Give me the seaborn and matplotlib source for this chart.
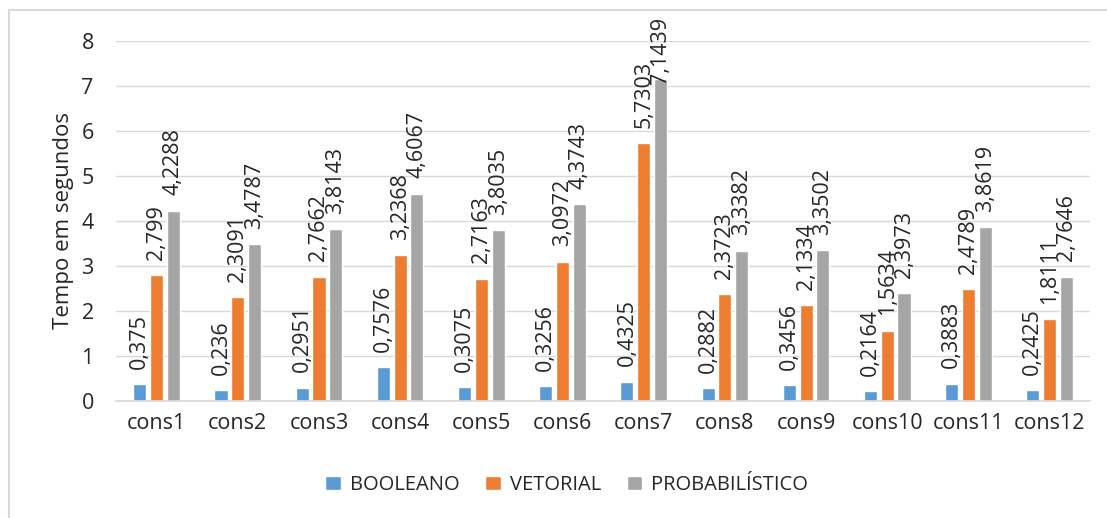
import matplotlib
matplotlib.use("Agg")
import matplotlib.pyplot as plt
from matplotlib.lines import Line2D
import seaborn as sns
import pandas as pd

consultas = ["cons1", "cons2", "cons3", "cons4", "cons5", "cons6",
             "cons7", "cons8", "cons9", "cons10", "cons11", "cons12"]
booleano = [0.375, 0.236, 0.2951, 0.7576, 0.3075, 0.3256,
            0.4325, 0.2882, 0.3456, 0.2164, 0.3883, 0.2425]
vetorial = [2.799, 2.3091, 2.7662, 3.2368, 2.7163, 3.0972,
            5.7303, 2.3723, 2.1334, 1.5634, 2.4789, 1.8111]
probabilistico = [4.2288, 3.4787, 3.8143, 4.6067, 3.8035, 4.3743,
                  7.1439, 3.3382, 3.3502, 2.3973, 3.8619, 2.7646]
modelos = ["BOOLEANO", "VETORIAL", "PROBABILÍSTICO"]
cores = ["#5b9bd5", "#ed7d31", "#a5a5a5"]

df = pd.DataFrame({
    "consulta": consultas * 3,
    "modelo": [modelos[0]] * 12 + [modelos[1]] * 12 + [modelos[2]] * 12,
    "tempo": booleano + vetorial + probabilistico,
})

sns.set_theme(style="white")
plt.rcParams["font.family"] = ["Open Sans", "DejaVu Sans"]

DPI = 100
fig = plt.figure(figsize=(11.07, 5.18), dpi=DPI)
ax = fig.add_axes([0.1048, 0.2259, 0.88, 0.695])

sns.barplot(data=df, x="consulta", y="tempo", hue="modelo",
            hue_order=modelos, palette=cores, width=0.62, gap=0.22,
            saturation=1, errorbar=None, ax=ax, legend=True)

# value labels above each bar, Brazilian decimal comma
rotulos = []
for cont in ax.containers:
    for bar in cont:
        h = bar.get_height()
        txt = f"{h:.4f}".rstrip("0").replace(".", ",")
        a = ax.annotate(txt, (bar.get_x() + bar.get_width() / 2, h),
                        xytext=(0, 11), textcoords="offset points",
                        rotation=90, ha="center", va="bottom",
                        fontsize=15.5, color="#262626", annotation_clip=False)
        rotulos.append(a)

ax.set_ylim(0, 8)
ax.set_xlim(-0.5, 11.5)
ax.set_yticks(range(0, 9))
ax.yaxis.grid(True, color="#d9d9d9", linewidth=1)
ax.set_axisbelow(True)
for s in ["top", "right", "left"]:
    ax.spines[s].set_visible(False)
ax.spines["bottom"].set_color("#d9d9d9")
ax.tick_params(axis="both", length=0, labelsize=15.5, colors="#262626")
ax.tick_params(axis="y", pad=16)
ax.tick_params(axis="x", pad=9)
ax.set_xlabel("")
ax.set_ylabel("Tempo em segundos", fontsize=16, color="#262626", labelpad=5)

handles, labels = ax.get_legend_handles_labels()
ax.get_legend().remove()
leg = fig.legend(handles, labels, loc="center", bbox_to_anchor=(0.512, 1 - 485 / 518),
                 ncol=3, frameon=False, fontsize=14.5, handlelength=0.75,
                 handleheight=0.75, handletextpad=0.45, columnspacing=1.3)
for t in leg.get_texts():
    t.set_color("#262626")

# keep value labels inside the chart area: push down any that overflow the top
fig.canvas.draw()
renderer = fig.canvas.get_renderer()
limite = fig.bbox.height - 17
for a in rotulos:
    bb = a.get_window_extent(renderer)
    if bb.y1 > limite:
        dx, dy = a.xyann
        a.xyann = (dx, dy - (bb.y1 - limite) * 72 / DPI)

# frame lines along the top and left of the chart area
fig.add_artist(Line2D([9 / 1107, 9 / 1107], [0, 1 - 10 / 518],
                      transform=fig.transFigure, color="#d9d9d9", linewidth=1.5))
fig.add_artist(Line2D([9 / 1107, 1], [1 - 10 / 518, 1 - 10 / 518],
                      transform=fig.transFigure, color="#d9d9d9", linewidth=1.5))

fig.savefig("out.png", dpi=DPI)
